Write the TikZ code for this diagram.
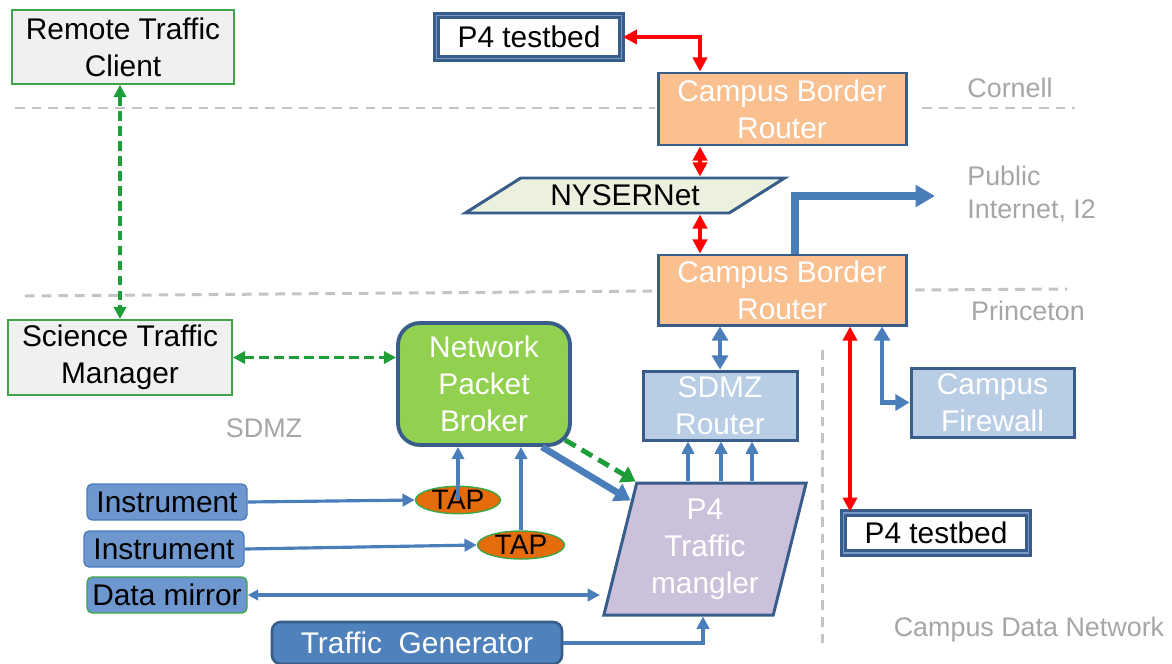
\documentclass[tikz,border=0pt]{standalone}
\usepackage{fontspec}
\setmainfont{Liberation Sans}
\usetikzlibrary{arrows.meta,shapes.geometric}
\definecolor{frameblue}{HTML}{385D8A}
\definecolor{linkblue}{HTML}{4A7EBB}
\definecolor{ctlgreen}{HTML}{1E9E38}
\definecolor{boxgreen}{HTML}{3CA648}
\definecolor{labelgray}{HTML}{A6A6A6}
\definecolor{sepgray}{HTML}{C4C4C4}
\definecolor{routerfill}{HTML}{FAC090}
\definecolor{nysfill}{HTML}{EBF1DE}
\definecolor{sdmzfill}{HTML}{B9CDE5}
\definecolor{npbfill}{HTML}{92D050}
\definecolor{manglefill}{HTML}{CCC1DA}
\definecolor{tapfill}{HTML}{E46C0A}
\definecolor{instfill}{HTML}{6F97CF}
\definecolor{genfill}{HTML}{4F81BD}
\definecolor{testbedline}{HTML}{7A98C8}
\tikzset{
  sized/.style 2 args={minimum width=#1*0.02cm, minimum height=#2*0.02cm},
  every node/.style={inner sep=0pt, align=center, font=\fontsize{17}{21}\selectfont},
  ctlbox/.style={draw=boxgreen, line width=1pt, fill=black!6},
  testbed/.style={draw=frameblue, double=testbedline, double distance=0.8pt, line width=1.6pt, fill=white},
  routerbox/.style={draw=frameblue, line width=1.7pt, fill=routerfill, text=white},
  lightbox/.style={draw=frameblue, line width=1.7pt, fill=sdmzfill, text=white},
  slanted/.style={shape=trapezium, trapezium stretches=true, draw=frameblue, line width=1.7pt},
  srcbox/.style={draw=linkblue, line width=0.8pt, fill=instfill, rounded corners=3pt},
  tapnode/.style={ellipse, draw=boxgreen, line width=0.8pt, fill=tapfill, font=\fontsize{16}{18}\selectfont},
  sitelabel/.style={text=labelgray, font=\fontsize{15.3}{19}\selectfont},
  sepline/.style={draw=sepgray, line width=1.7pt, dash pattern=on 5.5pt off 4pt},
  redlink/.style={draw=red, line width=2.2pt, {Triangle[length=8pt,width=8pt]}-{Triangle[length=8pt,width=8pt]}},
  ctllink/.style={draw=ctlgreen, line width=2pt, dash pattern=on 5.5pt off 3pt, {Triangle[length=7pt,width=7pt]}-{Triangle[length=7pt,width=7pt]}},
  thinlink/.style={draw=linkblue, line width=1.8pt, -{Triangle[length=7pt,width=7pt]}},
  midlink/.style={draw=linkblue, line width=2.8pt, {Triangle[length=8pt,width=9pt]}-{Triangle[length=8pt,width=9pt]}},
  biglink/.style={draw=linkblue, line width=4pt, -{Triangle[length=11pt,width=12pt]}}
}
\begin{document}
\begin{tikzpicture}[x=0.02cm, y=-0.02cm]
    \useasboundingbox (0,0) rectangle (1172,663);
    % site borders
    \draw[sepline] (15,108) -- (655,108);
    \draw[sepline] (922,108) -- (1075,108);
    \draw[sepline] (25,296) -- (655,291);
    \draw[sepline] (915,290) -- (1067,289);
    \draw[sepline] (822,350) -- (822,645);
    \node[sitelabel] (cornell) at (1010,88) {Cornell};
    \node[sitelabel, anchor=west, align=left] (inetlbl) at (967,194) {Public\\Internet, I2};
    \node[sitelabel] (princeton) at (1028,311) {Princeton};
    \node[sitelabel] (campus) at (1029,630) {Campus Data Network};
    \node[sitelabel] (sdmzlbl) at (264,428) {SDMZ};
    % boxes
    \node[ctlbox, sized={222}{74}] (rtc) at (123,47) {Remote Traffic\\Client};
    \node[ctlbox, sized={224}{75}] (stm) at (120,357.5) {Science Traffic\\Manager};
    \node[testbed, sized={185}{43}] (p4a) at (529,37) {P4 testbed};
    \node[routerbox, sized={248}{72}] (cbr1) at (782,109) {Campus Border\\Router};
    \node[slanted, fill=nysfill, trapezium left angle=28, trapezium right angle=152, sized={320}{35}] (nys) at (625,195.5) {NYSERNet};
    \node[routerbox, sized={248}{70}] (cbr2) at (782,290) {Campus Border\\Router};
    \node[lightbox, sized={154}{69}] (sdmz) at (720,405.5) {SDMZ\\Router};
    \node[lightbox, sized={163}{69}] (fw) at (992.5,402.5) {Campus\\Firewall};
    \node[testbed, sized={185}{40}] (p4b) at (936,533) {P4 testbed};
    \node[draw=frameblue, line width=2.2pt, fill=npbfill, text=white, rounded corners=0.44cm, sized={172}{122}] (npb) at (484,384) {Network\\Packet\\Broker};
    \node[slanted, fill=manglefill, text=white, trapezium left angle=75.5, trapezium right angle=104.5, sized={204}{132}] (p4m) at (705,549) {P4\\Traffic\\mangler};
    \node[srcbox, sized={160}{36}] (ins1) at (167,502) {Instrument};
    \node[srcbox, sized={160}{36}] (ins2) at (164,549) {Instrument};
    \node[srcbox, draw=boxgreen, sized={160}{36}] (dm) at (167,595) {Data mirror};
    \node[srcbox, draw=frameblue, line width=1.5pt, fill=genfill, text=white, rounded corners=5pt, sized={290}{42}] (tg) at (417,643) {Traffic\ \ Generator};
    \node[tapnode, sized={85}{26}] (tap1) at (458,500) {TAP};
    \node[tapnode, sized={87}{28}] (tap2) at (521,545) {TAP};
    % connectors
    \coordinate (rx) at (700,0);
    \coordinate (bx) at (795,0);
    \coordinate (tx) at (850,0);
    \coordinate (fx) at (882,0);
    \coordinate (mx) at (600,0);
    \coordinate (gx) at (703,0);
    \coordinate (inet) at (935,196);
    \draw[redlink] (p4a.east) -| (rx |- cbr1.north);
    \draw[redlink] (cbr1.south -| rx) -- (nys.north -| rx);
    \draw[redlink] (nys.south -| rx) -- (cbr2.north -| rx);
    \draw[redlink] (cbr2.south -| tx) -- (p4b.north -| tx);
    \draw[biglink] (cbr2.north -| bx) |- (inet);
    \draw[midlink] (cbr2.south -| sdmz.north) -- (sdmz.north);
    \draw[midlink, line width=2.4pt] (cbr2.south -| fx) |- (fw.west);
    \draw[ctllink] (rtc.south -| stm.north) -- (stm.north);
    \draw[ctllink] (stm.east) -- (stm.east -| npb.west);
    \foreach \x in {688,721,752} {
        \coordinate (u) at (\x,0);
        \draw[thinlink] (p4m.north -| u) -- (sdmz.south -| u);
    }
    \draw[draw=linkblue, line width=3.8pt, -{Triangle[length=9pt,width=11pt]}] ([xshift=-0.6cm]npb.south east) -- ([xshift=-0.1cm,yshift=-0.38cm]p4m.top left corner);
    \draw[draw=ctlgreen, line width=2.8pt, dash pattern=on 7pt off 4pt, -{Triangle[length=8pt,width=10pt]}] ([xshift=-0.14cm,yshift=0.14cm]npb.south east) -- (p4m.top left corner);
    \draw[thinlink] (ins1.east) -- (tap1.west);
    \draw[thinlink] (ins2.east) -- (tap2.west);
    \draw[thinlink] (tap1.center) -- (tap1.center |- npb.south);
    \draw[thinlink] (tap2.north) -- (tap2.north |- npb.south);
    \draw[thinlink, {Triangle[length=6pt,width=6pt]}-{Triangle[length=7pt,width=7pt]}] (dm.east) -- (dm.east -| mx);
    \draw[thinlink] (tg.east) -| (gx |- p4m.south);
\end{tikzpicture}
\end{document}
